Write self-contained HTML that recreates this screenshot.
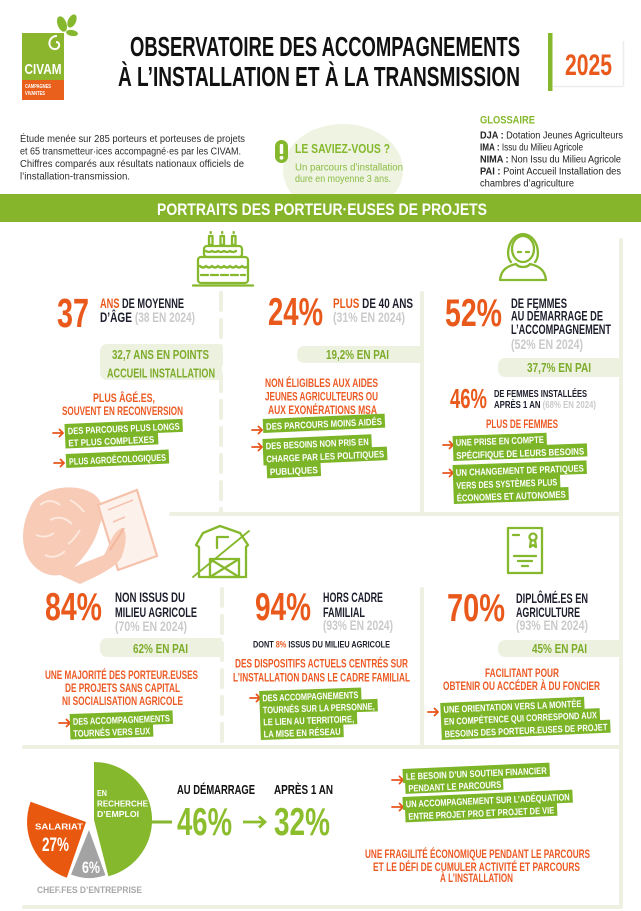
<!DOCTYPE html>
<html><head><meta charset="utf-8"><style>
html,body{margin:0;padding:0;background:#fff;}
svg{display:block;}
.c{font-family:"Liberation Sans Narrow","Liberation Sans",sans-serif;font-weight:bold;}
.r{font-family:"Liberation Sans",sans-serif;}
</style></head><body>
<svg width="641" height="911" viewBox="0 0 641 911" xmlns="http://www.w3.org/2000/svg">
<rect width="641" height="911" fill="#fff"/>

<!-- LOGO -->
<g>
  <ellipse cx="62" cy="24" rx="4.5" ry="8" fill="#86b82e" transform="rotate(-20 62 24)"/>
  <ellipse cx="72" cy="21" rx="4" ry="7" fill="#86b82e" transform="rotate(25 72 21)"/>
  <ellipse cx="72" cy="33" rx="6" ry="3" fill="#86b82e" transform="rotate(10 72 33)"/>
  <rect x="22" y="33" width="42" height="47" fill="#8ab52c"/>
  <path d="M57,36 C48,36 47,48 54,49 C60,50 61,42 56,42" fill="none" stroke="#fff" stroke-width="2"/>
  <text x="24.5" y="74" font-size="15" textLength="37" lengthAdjust="spacingAndGlyphs" class="c" fill="#fff">CIVAM</text>
  <rect x="22" y="80" width="42" height="20" fill="#e8601c"/>
  <text x="25" y="88" font-size="5.5" textLength="26" lengthAdjust="spacingAndGlyphs" class="c" fill="#fff">CAMPAGNES</text>
  <text x="25" y="95" font-size="5.5" textLength="20" lengthAdjust="spacingAndGlyphs" class="c" fill="#fff">VIVANTES</text>
</g>

<!-- TITLE -->
<text x="130" y="56" font-size="28" textLength="390" lengthAdjust="spacingAndGlyphs" class="c" fill="#111">OBSERVATOIRE DES ACCOMPAGNEMENTS</text>
<text x="118" y="86" font-size="28" textLength="402" lengthAdjust="spacingAndGlyphs" class="c" fill="#111">À L’INSTALLATION ET À LA TRANSMISSION</text>

<rect x="553" y="39" width="70" height="47" fill="#fff"/>
<line x1="623.5" y1="41" x2="623.5" y2="86" stroke="#ececec" stroke-width="1.5"/>
<line x1="553" y1="86.5" x2="623" y2="86.5" stroke="#ececec" stroke-width="1.5"/>
<rect x="548" y="33" width="4.5" height="58" fill="#86b82e"/>
<text x="565" y="75" font-size="30" textLength="47" lengthAdjust="spacingAndGlyphs" class="c" fill="#e9591c">2025</text>

<!-- INTRO -->
<g class="r" fill="#2b2b2b" font-size="10">
  <text x="20" y="142" textLength="225" lengthAdjust="spacingAndGlyphs">Étude menée sur 285 porteurs et porteuses de projets</text>
  <text x="20" y="154.5" textLength="221" lengthAdjust="spacingAndGlyphs">et 65 transmetteur·ices accompagné·es par les CIVAM.</text>
  <text x="20" y="167" textLength="224" lengthAdjust="spacingAndGlyphs">Chiffres comparés aux résultats nationaux officiels de</text>
  <text x="20" y="179.5" textLength="110" lengthAdjust="spacingAndGlyphs">l’installation-transmission.</text>
</g>

<ellipse cx="343" cy="170" rx="60" ry="46" fill="#eef3e2"/>
<rect x="275" y="140" width="13" height="23" rx="6.5" fill="#86b82e"/>
<rect x="279.8" y="144" width="3.4" height="10" rx="1" fill="#fff"/>
<circle cx="281.5" cy="157.8" r="1.9" fill="#fff"/>
<text x="295" y="153" font-size="13" textLength="95" lengthAdjust="spacingAndGlyphs" class="c" fill="#86b82e">LE SAVIEZ-VOUS ?</text>
<text x="295" y="170.5" font-size="10" textLength="108" lengthAdjust="spacingAndGlyphs" class="r" fill="#8cbd45">Un parcours d’installation</text>
<text x="295" y="182" font-size="10" textLength="96" lengthAdjust="spacingAndGlyphs" class="r" fill="#8cbd45">dure en moyenne 3 ans.</text>

<text x="480" y="123.5" font-size="11" textLength="55" lengthAdjust="spacingAndGlyphs" class="c" fill="#86b82e">GLOSSAIRE</text>
<g font-size="10" fill="#222" class="r">
  <text x="480" y="138.5" textLength="143" lengthAdjust="spacingAndGlyphs"><tspan font-weight="bold">DJA :</tspan> Dotation Jeunes Agriculteurs</text>
  <text x="480" y="150.5" textLength="103" lengthAdjust="spacingAndGlyphs"><tspan font-weight="bold">IMA :</tspan> Issu du Milieu Agricole</text>
  <text x="480" y="162.5" textLength="141" lengthAdjust="spacingAndGlyphs"><tspan font-weight="bold">NIMA :</tspan> Non Issu du Milieu Agricole</text>
  <text x="480" y="174.5" textLength="141" lengthAdjust="spacingAndGlyphs"><tspan font-weight="bold">PAI :</tspan> Point Accueil Installation des</text>
  <text x="480" y="186.5" textLength="94" lengthAdjust="spacingAndGlyphs">chambres d’agriculture</text>
</g>

<!-- BANNER -->
<rect x="0" y="194" width="641" height="28" fill="#86b52b"/>
<text x="157" y="215" font-size="17" textLength="330" lengthAdjust="spacingAndGlyphs" class="c" fill="#fff">PORTRAITS DES PORTEUR·EUSES DE PROJETS</text>

<!-- GRID LINES -->
<g stroke="#eef0e2" stroke-width="4" stroke-linecap="round" fill="none">
  <line x1="221" y1="293" x2="221" y2="512" stroke-dasharray="17 10"/>
  <line x1="422" y1="293" x2="422" y2="514"/>
  <line x1="621" y1="240" x2="621" y2="514"/>
  <line x1="171" y1="514" x2="621" y2="514"/>
  <line x1="222" y1="589" x2="222" y2="745" stroke-dasharray="17 10"/>
  <line x1="422" y1="589" x2="422" y2="747"/>
  <line x1="621" y1="514" x2="621" y2="747"/>
  <line x1="24" y1="747" x2="621" y2="747"/>
  <line x1="621" y1="747" x2="621" y2="907"/>
  <line x1="24" y1="907" x2="621" y2="907"/>
</g>

<!-- ICONS -->
<g fill="none" stroke="#86b82e" stroke-width="2.3" stroke-linecap="round" stroke-linejoin="round">
  <!-- cake -->
  <rect x="209" y="236" width="3.5" height="9"/>
  <rect x="220.5" y="236" width="3.5" height="9"/>
  <rect x="232" y="236" width="3.5" height="9"/>
  <path d="M210.7,233 v-1 M222.2,233 v-1 M233.7,233 v-1"/>
  <rect x="204" y="246" width="38" height="11" rx="3"/>
  <rect x="198" y="257" width="50" height="26" rx="3"/>
  <path d="M200,266 q3,3 6,0 q3,3 6,0 q3,3 6,0 q3,3 6,0 q3,3 6,0 q3,3 6,0 q3,3 6,0 q3,3 6,0"/>
  <path d="M201,275 h44" stroke-dasharray="7 3"/>
  <path d="M206,251 q3,2 6,0 q3,2 6,0 q3,2 6,0 q3,2 6,0 q3,2 6,0"/>
  <path d="M193,285.5 h60"/>
  <!-- woman -->
  <ellipse cx="523" cy="249" rx="11" ry="13"/>
  <path d="M511,262 C505,256 508,235 523,234 C538,235 541,256 535,262"/>
  <path d="M518,252 h3 M526,252 h3"/>
  <path d="M500,280 C501,270 507,266 516,264 C519,268 527,268 530,264 C539,266 545,270 546,280 Z"/>
  <!-- barn -->
  <path d="M199,577 V547 L196,545 L203,533 L220,526 L240,533 L248,545 L246,547 V577 Z"/>
  <path d="M217,548 V537 H228"/>
  <rect x="210" y="559" width="29" height="18"/>
  <path d="M210,559 L239,577 M239,559 L210,577"/>
  <path d="M193,577 L249,531" stroke-width="1.8"/>
  <!-- certificate -->
  <rect x="508" y="528" width="34" height="45"/>
  <path d="M513,535 h6"/>
  <circle cx="533" cy="537" r="3.5"/>
  <path d="M531,540 L530,547 L533,545 L536,547 L535,540"/>
  <path d="M514,556 h22 M518,561 h14 M522,566 h6"/>
</g>

<!-- ILLUSTRATION -->
<g>
  <path d="M30,508 C36,489 72,481 92,493 C104,500 105,514 99,527 C95,542 86,556 72,569 C56,582 36,574 27,556 C20,540 23,522 30,508 Z" fill="#f7cbb6"/>
  <path d="M40,505 q10,-8 20,0 M50,520 q12,-6 22,4 M36,535 q10,4 18,-2 M70,500 q8,4 14,12 M45,555 q10,5 20,-4 M80,530 q-6,10 -12,14" stroke="#fde8de" stroke-width="2" fill="none"/>
  <path d="M98,505 L137,490 L157,556 L118,570 Z" fill="#fdf1ec" stroke="#f5c1aa" stroke-width="2.2"/>
  <path d="M108,510 L133,500 M113,522 L125,517" stroke="#f5c1aa" stroke-width="1.5"/>
  <path d="M60,575 C75,565 92,560 104,555 C110,545 112,532 122,528 C128,532 126,545 122,556 C118,566 100,575 80,584 Z" fill="#f7cbb6"/>
  <path d="M110,550 l14,-22" stroke="#f3b89e" stroke-width="2"/>
</g>

<!-- ============ ROW 1 COL 1 ============ -->
<text x="57" y="327" font-size="41" textLength="32" lengthAdjust="spacingAndGlyphs" class="c" fill="#e9591c">37</text>
<text x="100" y="308" font-size="13.5" textLength="84" lengthAdjust="spacingAndGlyphs" class="c" fill="#1d1e2c"><tspan fill="#e9591c">ANS</tspan> DE MOYENNE</text>
<text x="100" y="322" font-size="13.5" textLength="95" lengthAdjust="spacingAndGlyphs" class="c" fill="#1d1e2c">D’ÂGE <tspan fill="#cacaca">(38 EN 2024)</tspan></text>
<path d="M108,344 H222 V380 H108 Q100,380 100,372 V352 Q100,344 108,344 Z" fill="#edf1e0"/>
<text x="112" y="359" font-size="13" textLength="97" lengthAdjust="spacingAndGlyphs" class="c" fill="#7dac2a">32,7 ANS EN POINTS</text>
<text x="107" y="377.5" font-size="13" textLength="108" lengthAdjust="spacingAndGlyphs" class="c" fill="#7dac2a">ACCUEIL INSTALLATION</text>
<text x="93" y="402" font-size="12" textLength="62" lengthAdjust="spacingAndGlyphs" class="c" fill="#ec5a24">PLUS ÂGÉ.ES,</text>
<text x="62" y="415" font-size="12" textLength="121" lengthAdjust="spacingAndGlyphs" class="c" fill="#ec5a24">SOUVENT EN RECONVERSION</text>

<g stroke="#e8541c" stroke-width="1.8" fill="none" stroke-linecap="round" stroke-linejoin="round">
  <path d="M53,433 H63 M59.5,429.5 L63,433 L59.5,436.5"/>
  <path d="M54,463 H64 M60.5,459.5 L64,463 L60.5,466.5"/>
  <path d="M252,430 H262 M258.5,426.5 L262,430 L258.5,433.5"/>
  <path d="M252,447 H262 M258.5,443.5 L262,447 L258.5,450.5"/>
  <path d="M443,445 H453 M449.5,441.5 L453,445 L449.5,448.5"/>
  <path d="M443,473 H453 M449.5,469.5 L453,473 L449.5,476.5"/>
  <path d="M59,723 H70 M66.5,719.5 L70,723 L66.5,726.5"/>
  <path d="M250,698 H260 M256.5,694.5 L260,698 L256.5,701.5"/>
  <path d="M428,712 H438 M434.5,708.5 L438,712 L434.5,715.5"/>
  <path d="M392,780 H403 M399.5,776.5 L403,780 L399.5,783.5"/>
  <path d="M392,807 H403 M399.5,803.5 L403,807 L399.5,810.5"/>
</g>

<g class="c" font-size="9.5" fill="#fff">
  <g transform="rotate(-2.5 65 436)">
    <rect x="65" y="424" width="118" height="13" fill="#7db529"/>
    <rect x="65" y="436" width="93" height="12.5" fill="#7db529"/>
    <text x="68" y="434.5" textLength="112" lengthAdjust="spacingAndGlyphs">DES PARCOURS PLUS LONGS</text>
    <text x="68" y="446.5" textLength="86" lengthAdjust="spacingAndGlyphs">ET PLUS COMPLEXES</text>
  </g>
  <g transform="rotate(-2.5 66 461)">
    <rect x="66" y="454" width="103" height="14" fill="#7db529"/>
    <text x="69" y="465" textLength="97" lengthAdjust="spacingAndGlyphs">PLUS AGROÉCOLOGIQUES</text>
  </g>
  <!-- col2 -->
  <g transform="rotate(-2.5 263 426)">
    <rect x="263" y="419" width="122" height="14" fill="#7db529"/>
    <text x="266" y="430" textLength="116" lengthAdjust="spacingAndGlyphs">DES PARCOURS MOINS AIDÉS</text>
  </g>
  <g transform="rotate(-2.5 263 452)">
    <rect x="263" y="439" width="109" height="13.5" fill="#7db529"/>
    <rect x="263" y="452" width="124" height="13.5" fill="#7db529"/>
    <rect x="266" y="465" width="54" height="13.5" fill="#7db529"/>
    <text x="266" y="449.5" textLength="103" lengthAdjust="spacingAndGlyphs">DES BESOINS NON PRIS EN</text>
    <text x="266" y="462.5" textLength="118" lengthAdjust="spacingAndGlyphs">CHARGE PAR LES POLITIQUES</text>
    <text x="269" y="475.5" textLength="48" lengthAdjust="spacingAndGlyphs">PUBLIQUES</text>
  </g>
  <!-- col3 -->
  <g transform="rotate(-2 453 448)">
    <rect x="453" y="436" width="94" height="12.5" fill="#7db529"/>
    <rect x="453" y="448" width="134" height="13" fill="#7db529"/>
    <text x="456" y="446" textLength="88" lengthAdjust="spacingAndGlyphs">UNE PRISE EN COMPTE</text>
    <text x="456" y="459" textLength="128" lengthAdjust="spacingAndGlyphs">SPÉCIFIQUE DE LEURS BESOINS</text>
  </g>
  <g transform="rotate(-2 453 478)">
    <rect x="453" y="465" width="134" height="13.5" fill="#7db529"/>
    <rect x="453" y="478" width="107" height="13.5" fill="#7db529"/>
    <rect x="453" y="491" width="115" height="13" fill="#7db529"/>
    <text x="456" y="476" textLength="128" lengthAdjust="spacingAndGlyphs">UN CHANGEMENT DE PRATIQUES</text>
    <text x="456" y="489" textLength="101" lengthAdjust="spacingAndGlyphs">VERS DES SYSTÈMES PLUS</text>
    <text x="456" y="501.5" textLength="109" lengthAdjust="spacingAndGlyphs">ÉCONOMES ET AUTONOMES</text>
  </g>
  <!-- row2 col1 -->
  <g transform="rotate(-2 70 726)">
    <rect x="70" y="714" width="103" height="13.5" fill="#7db529"/>
    <rect x="70" y="727" width="83" height="12.5" fill="#7db529"/>
    <text x="73" y="725" textLength="97" lengthAdjust="spacingAndGlyphs">DES ACCOMPAGNEMENTS</text>
    <text x="73" y="737" textLength="77" lengthAdjust="spacingAndGlyphs">TOURNÉS VERS EUX</text>
  </g>
  <!-- row2 col2 -->
  <g transform="rotate(-2 260 716)">
    <rect x="260" y="691" width="102" height="12.5" fill="#7db529"/>
    <rect x="260" y="703" width="118" height="12.5" fill="#7db529"/>
    <rect x="260" y="715" width="97" height="12.5" fill="#7db529"/>
    <rect x="260" y="727" width="83" height="13" fill="#7db529"/>
    <text x="263" y="701.5" textLength="96" lengthAdjust="spacingAndGlyphs">DES ACCOMPAGNEMENTS</text>
    <text x="263" y="713.5" textLength="112" lengthAdjust="spacingAndGlyphs">TOURNÉS SUR LA PERSONNE,</text>
    <text x="263" y="725.5" textLength="91" lengthAdjust="spacingAndGlyphs">LE LIEN AU TERRITOIRE,</text>
    <text x="263" y="737.5" textLength="77" lengthAdjust="spacingAndGlyphs">LA MISE EN RÉSEAU</text>
  </g>
  <!-- row2 col3 -->
  <g transform="rotate(-2.5 441 721)">
    <rect x="441" y="703" width="144" height="12.5" fill="#7db529"/>
    <rect x="441" y="715" width="159" height="12.5" fill="#7db529"/>
    <rect x="441" y="727" width="169" height="13" fill="#7db529"/>
    <text x="444" y="713" textLength="138" lengthAdjust="spacingAndGlyphs">UNE ORIENTATION VERS LA MONTÉE</text>
    <text x="444" y="725" textLength="153" lengthAdjust="spacingAndGlyphs">EN COMPÉTENCE QUI CORRESPOND AUX</text>
    <text x="444" y="737.5" textLength="163" lengthAdjust="spacingAndGlyphs">BESOINS DES PORTEUR.EUSES DE PROJET</text>
  </g>
  <!-- row3 -->
  <g transform="rotate(-2.5 403 781)">
    <rect x="403" y="769" width="147" height="14" fill="#7db529"/>
    <rect x="405" y="782" width="98" height="12" fill="#7db529"/>
    <text x="406" y="780" textLength="141" lengthAdjust="spacingAndGlyphs">LE BESOIN D’UN SOUTIEN FINANCIER</text>
    <text x="408" y="792" textLength="93" lengthAdjust="spacingAndGlyphs">PENDANT LE PARCOURS</text>
  </g>
  <g transform="rotate(-2.5 403 809)">
    <rect x="403" y="797" width="170" height="13" fill="#7db529"/>
    <rect x="405" y="809" width="152" height="13.5" fill="#7db529"/>
    <text x="406" y="807.5" textLength="164" lengthAdjust="spacingAndGlyphs">UN ACCOMPAGNEMENT SUR L’ADÉQUATION</text>
    <text x="408" y="820" textLength="146" lengthAdjust="spacingAndGlyphs">ENTRE PROJET PRO ET PROJET DE VIE</text>
  </g>
</g>

<!-- ============ ROW 1 COL 2 ============ -->
<text x="268" y="325" font-size="39" textLength="55" lengthAdjust="spacingAndGlyphs" class="c" fill="#e9591c">24%</text>
<text x="333" y="308" font-size="13.5" textLength="80" lengthAdjust="spacingAndGlyphs" class="c" fill="#1d1e2c"><tspan fill="#e9591c">PLUS</tspan> DE 40 ANS</text>
<text x="333" y="322" font-size="13.5" textLength="72" lengthAdjust="spacingAndGlyphs" class="c" fill="#cacaca">(31% EN 2024)</text>
<path d="M305,346 H422 V363 H305 Q297,363 297,355 V354 Q297,346 305,346 Z" fill="#edf1e0"/>
<text x="326" y="359" font-size="13" textLength="63" lengthAdjust="spacingAndGlyphs" class="c" fill="#7dac2a">19,2% EN PAI</text>
<g class="c" font-size="12" fill="#ec5a24">
  <text x="265" y="387" textLength="113" lengthAdjust="spacingAndGlyphs">NON ÉLIGIBLES AUX AIDES</text>
  <text x="265" y="400.5" textLength="113" lengthAdjust="spacingAndGlyphs">JEUNES AGRICULTEURS OU</text>
  <text x="268" y="414" textLength="109" lengthAdjust="spacingAndGlyphs">AUX EXONÉRATIONS MSA</text>
</g>

<!-- ============ ROW 1 COL 3 ============ -->
<text x="445" y="326" font-size="39" textLength="57" lengthAdjust="spacingAndGlyphs" class="c" fill="#e9591c">52%</text>
<g class="c" font-size="13.5" fill="#1d1e2c">
  <text x="511" y="308" textLength="56" lengthAdjust="spacingAndGlyphs">DE FEMMES</text>
  <text x="511" y="320.5" textLength="92" lengthAdjust="spacingAndGlyphs">AU DÉMARRAGE DE</text>
  <text x="511" y="334" textLength="100" lengthAdjust="spacingAndGlyphs">L’ACCOMPAGNEMENT</text>
  <text x="511" y="349" textLength="72" lengthAdjust="spacingAndGlyphs" fill="#cacaca">(52% EN 2024)</text>
</g>
<path d="M506,358 H622 V377 H506 Q498,377 498,369 V366 Q498,358 506,358 Z" fill="#edf1e0"/>
<text x="527" y="372" font-size="13" textLength="64" lengthAdjust="spacingAndGlyphs" class="c" fill="#7dac2a">37,7% EN PAI</text>
<text x="450" y="408" font-size="28" textLength="37" lengthAdjust="spacingAndGlyphs" class="c" fill="#e9591c">46%</text>
<text x="494" y="397" font-size="10" textLength="93" lengthAdjust="spacingAndGlyphs" class="c" fill="#1d1e2c">DE FEMMES INSTALLÉES</text>
<text x="494" y="408" font-size="10" textLength="102" lengthAdjust="spacingAndGlyphs" class="c" fill="#1d1e2c">APRÈS 1 AN <tspan fill="#cacaca">(68% EN 2024)</tspan></text>
<text x="486" y="428" font-size="12" textLength="72" lengthAdjust="spacingAndGlyphs" class="c" fill="#ec5a24">PLUS DE FEMMES</text>

<!-- ============ ROW 2 COL 1 ============ -->
<text x="45" y="620" font-size="39" textLength="57" lengthAdjust="spacingAndGlyphs" class="c" fill="#e9591c">84%</text>
<g class="c" font-size="13.5" fill="#1d1e2c">
  <text x="115" y="602" textLength="70" lengthAdjust="spacingAndGlyphs">NON ISSUS DU</text>
  <text x="115" y="617" textLength="82" lengthAdjust="spacingAndGlyphs">MILIEU AGRICOLE</text>
  <text x="115" y="631" textLength="72" lengthAdjust="spacingAndGlyphs" fill="#cacaca">(70% EN 2024)</text>
</g>
<path d="M108,638 H222 V657 H108 Q100,657 100,649 V646 Q100,638 108,638 Z" fill="#edf1e0"/>
<text x="133" y="653" font-size="13" textLength="55" lengthAdjust="spacingAndGlyphs" class="c" fill="#7dac2a">62% EN PAI</text>
<g class="c" font-size="12" fill="#ec5a24">
  <text x="45" y="679" textLength="153" lengthAdjust="spacingAndGlyphs">UNE MAJORITÉ DES PORTEUR.EUSES</text>
  <text x="65" y="692" textLength="115" lengthAdjust="spacingAndGlyphs">DE PROJETS SANS CAPITAL</text>
  <text x="62" y="705" textLength="121" lengthAdjust="spacingAndGlyphs">NI SOCIALISATION AGRICOLE</text>
</g>

<!-- ============ ROW 2 COL 2 ============ -->
<text x="255" y="620" font-size="39" textLength="56" lengthAdjust="spacingAndGlyphs" class="c" fill="#e9591c">94%</text>
<g class="c" font-size="13.5" fill="#1d1e2c">
  <text x="323" y="602" textLength="60" lengthAdjust="spacingAndGlyphs">HORS CADRE</text>
  <text x="323" y="617" textLength="42" lengthAdjust="spacingAndGlyphs">FAMILIAL</text>
  <text x="323" y="630" textLength="70" lengthAdjust="spacingAndGlyphs" fill="#cacaca">(93% EN 2024)</text>
</g>
<text x="253" y="647.5" font-size="9" textLength="137" lengthAdjust="spacingAndGlyphs" class="c" fill="#1d1e2c">DONT <tspan fill="#e9591c">8%</tspan> ISSUS DU MILIEU AGRICOLE</text>
<g class="c" font-size="12" fill="#ec5a24">
  <text x="235" y="667.5" textLength="173" lengthAdjust="spacingAndGlyphs">DES DISPOSITIFS ACTUELS CENTRÉS SUR</text>
  <text x="233" y="681.5" textLength="177" lengthAdjust="spacingAndGlyphs">L’INSTALLATION DANS LE CADRE FAMILIAL</text>
</g>

<!-- ============ ROW 2 COL 3 ============ -->
<text x="447" y="621" font-size="39" textLength="58" lengthAdjust="spacingAndGlyphs" class="c" fill="#e9591c">70%</text>
<g class="c" font-size="13.5" fill="#1d1e2c">
  <text x="516" y="603" textLength="72" lengthAdjust="spacingAndGlyphs">DIPLÔMÉ.ES EN</text>
  <text x="516" y="617" textLength="64" lengthAdjust="spacingAndGlyphs">AGRICULTURE</text>
  <text x="516" y="630" textLength="72" lengthAdjust="spacingAndGlyphs" fill="#cacaca">(93% EN 2024)</text>
</g>
<path d="M506,640 H621 V657 H506 Q498,657 498,649 V648 Q498,640 506,640 Z" fill="#edf1e0"/>
<text x="532" y="653" font-size="13" textLength="55" lengthAdjust="spacingAndGlyphs" class="c" fill="#7dac2a">45% EN PAI</text>
<g class="c" font-size="12" fill="#ec5a24">
  <text x="485" y="677" textLength="74" lengthAdjust="spacingAndGlyphs">FACILITANT POUR</text>
  <text x="443" y="690" textLength="157" lengthAdjust="spacingAndGlyphs">OBTENIR OU ACCÉDER À DU FONCIER</text>
</g>

<!-- ============ ROW 3 ============ -->
<path d="M94,820 L94,762 A58,58 0 0 1 108.4,876.2 Z" fill="#86b82e"/>
<path d="M86,822 L66.8,877.8 A59,59 0 0 1 30.6,801.8 Z" fill="#e8590f"/>
<path d="M89,830 L105.4,875.1 A48,48 0 0 1 71,874.5 Z" fill="#a3a3a3"/>
<g class="c" fill="#fff">
  <text x="97" y="796" font-size="8.5" textLength="10" lengthAdjust="spacingAndGlyphs">EN</text>
  <text x="97" y="806.5" font-size="8.5" textLength="51" lengthAdjust="spacingAndGlyphs">RECHERCHE</text>
  <text x="97" y="817" font-size="8.5" textLength="42" lengthAdjust="spacingAndGlyphs">D’EMPLOI</text>
  <text x="35" y="829.5" font-size="8.5" textLength="48" lengthAdjust="spacingAndGlyphs">SALARIAT</text>
  <text x="42" y="851" font-size="19" textLength="27" lengthAdjust="spacingAndGlyphs">27%</text>
  <text x="82" y="873" font-size="16.5" textLength="18" lengthAdjust="spacingAndGlyphs">6%</text>
</g>
<text x="37" y="893" font-size="9.5" textLength="105" lengthAdjust="spacingAndGlyphs" class="c" fill="#a8a8a8">CHEF.FES D’ENTREPRISE</text>
<line x1="152" y1="822" x2="172" y2="822" stroke="#86b82e" stroke-width="3"/>
<text x="177" y="794" font-size="13" textLength="78" lengthAdjust="spacingAndGlyphs" class="c" fill="#111">AU DÉMARRAGE</text>
<text x="274" y="794" font-size="13" textLength="59" lengthAdjust="spacingAndGlyphs" class="c" fill="#111">APRÈS 1 AN</text>
<text x="177" y="835" font-size="39" textLength="55" lengthAdjust="spacingAndGlyphs" class="c" fill="#8cbd2d">46%</text>
<path d="M243,822 H265 M259,816.5 L265,822 L259,827.5" stroke="#8cbd2d" stroke-width="2.8" fill="none"/>
<text x="274" y="835" font-size="39" textLength="56" lengthAdjust="spacingAndGlyphs" class="c" fill="#8cbd2d">32%</text>

<g class="c" font-size="12" fill="#ec5a24">
  <text x="365" y="858" textLength="225" lengthAdjust="spacingAndGlyphs">UNE FRAGILITÉ ÉCONOMIQUE PENDANT LE PARCOURS</text>
  <text x="373" y="871" textLength="207" lengthAdjust="spacingAndGlyphs">ET LE DÉFI DE CUMULER ACTIVITÉ ET PARCOURS</text>
  <text x="440" y="882" textLength="73" lengthAdjust="spacingAndGlyphs">À L’INSTALLATION</text>
</g>
</svg>
</body></html>
